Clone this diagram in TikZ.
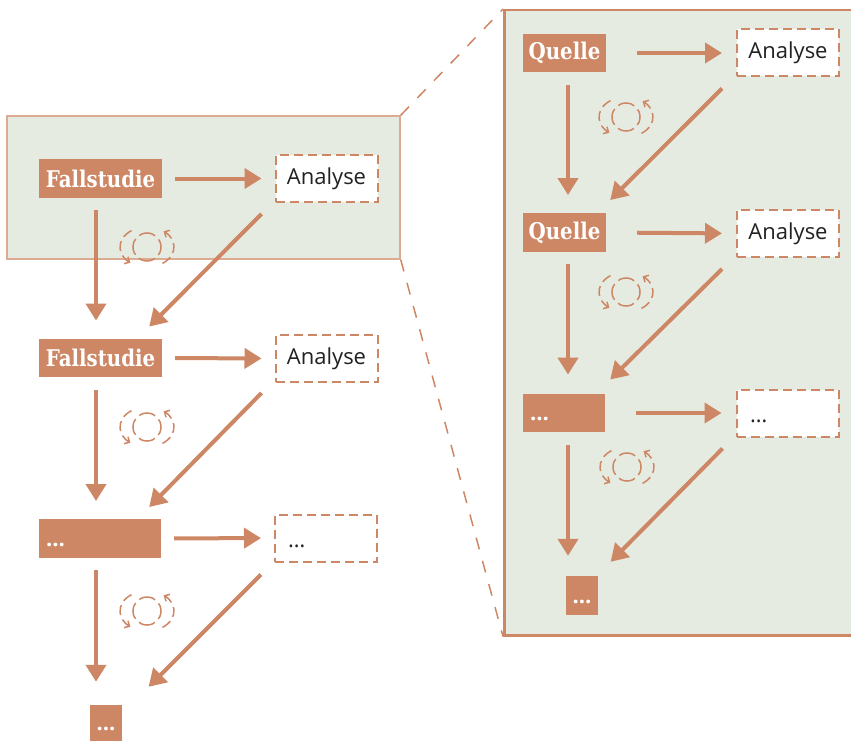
\documentclass[tikz,border=0pt]{standalone}
\usepackage{fontspec}
\setmainfont{Open Sans}
\newfontfamily\slab[FakeStretch=0.86]{DejaVu Serif}
\usetikzlibrary{arrows.meta}
\definecolor{rust}{RGB}{205,135,100}
\definecolor{sage}{RGB}{230,235,225}
\definecolor{ink}{RGB}{34,34,34}
\tikzset{
  loopicon/.pic={
    \draw[ring,dash pattern=on 17pt off 5pt,dash phase=8.5pt] (0,0) circle[radius=14];
    \draw[ring,-{Straight Barb[length=4pt,width=8pt]}] (235:27 and 20)
      arc[start angle=235,end angle=128,x radius=27,y radius=20];
    \draw[ring,-{Straight Barb[length=4pt,width=8pt]}] (55:27 and 20)
      arc[start angle=55,end angle=-52,x radius=27,y radius=20];
  }
}
\begin{document}
\begin{tikzpicture}
  [x=1pt,y=-1pt,
   casebox/.style={fill=rust,text=white,inner sep=0pt,minimum height=38.5pt,
     font=\slab\bfseries\fontsize{23}{26}\selectfont},
   dotbox/.style={fill=rust,text=white,inner sep=0pt,inner xsep=7pt,align=left,
     minimum height=38.5pt,text height=15pt,text depth=0pt,
     font=\bfseries\fontsize{22}{26}\selectfont},
   resbox/.style={draw=rust,line width=2pt,dash pattern=on 9pt off 5pt,fill=white,
     text=ink,inner sep=0pt,minimum width=102pt,minimum height=47pt,
     font=\fontsize{22}{26}\selectfont},
   resdots/.style={resbox,inner xsep=13pt,align=left,text height=18pt,text depth=0pt},
   flow/.style={draw=rust,line width=4pt,-{Triangle[width=20pt,length=17pt]}},
   ring/.style={draw=rust,line width=1.5pt,dash pattern=on 10pt off 5pt},
   panel/.style={fill=sage,draw=rust,inner sep=0pt}]
  \useasboundingbox (0,0) rectangle (851,741);
  \node[panel,draw=rust!70,line width=1.5pt,minimum width=393pt,minimum height=143pt]
    (lpanel) at (203.5,187.5) {};
  \node[panel,line width=2.5pt,minimum width=380pt,minimum height=625pt,anchor=north west]
    (rpanel) at (503,9) {};
  \draw[rust,line width=1.5pt,dash pattern=on 12pt off 12pt]
    (lpanel.north east) -- (rpanel.north west)
    (lpanel.south east) -- (rpanel.south west);
  \coordinate (lx) at (96,0);
  \coordinate (rx) at (568,0);

  \node[casebox,minimum width=123pt] (f1) at (100.5,178.5) {Fallstudie};
  \node[resbox] (a1) at (326.5,178.5) {Analyse};
  \node[casebox,minimum width=123pt] (f2) at (100.5,358) {Fallstudie};
  \node[resbox] (a2) at (326.5,358.5) {Analyse};
  \node[dotbox,text width=108pt] (f3) at (100,538.5) {…};
  \node[resdots,text width=76pt] (a3) at (326,538) {…};
  \node[dotbox,minimum width=32pt,minimum height=36pt] (f4) at (106,723) {…};

  \node[casebox,minimum width=83pt] (q1) at (564.5,53) {Quelle};
  \node[resbox] (b1) at (788,53) {Analyse};
  \node[casebox,minimum width=83pt] (q2) at (564.5,232.5) {Quelle};
  \node[resbox] (b2) at (788,233.5) {Analyse};
  \node[dotbox,text width=68pt] (q3) at (564,413) {…};
  \node[resdots,text width=75pt] (b3) at (787.5,413) {…};
  \node[dotbox,minimum width=32pt,minimum height=39pt] (q4) at (582,595.5) {…};

  \foreach \a/\b in {f1/a1,f2/a2,f3/a3}
    \draw[flow,shorten <=13pt,shorten >=13pt] (\a.east) -- (\b.west);
  \foreach \a/\b in {q1/b1,q2/b2,q3/b3}
    \draw[flow,shorten <=31pt,shorten >=14pt] (\a.east) -- (\b.west);
  \foreach \a/\b/\e in {f1/f2/18,f2/f3/18,f3/f4/23}
    \draw[flow,shorten <=12.5pt,shorten >=\e pt] (\a.south -| lx) -- (\b.north -| lx);
  \foreach \a/\b/\e in {q1/q2/18,q2/q3/19,q3/q4/20}
    \draw[flow,shorten <=12.5pt,shorten >=\e pt] (\a.south -| rx) -- (\b.north -| rx);

  \draw[flow] ([shift={(-13,11)}]a1.south west) -- ([shift={(-13,-12)}]f2.north east);
  \draw[flow] ([shift={(-13,10)}]a2.south west) -- ([shift={(-12,-12)}]f3.north east);
  \draw[flow] ([shift={(-13,12)}]a3.south west) -- ([shift={(26,-18)}]f4.north east);
  \draw[flow] ([shift={(-14,11)}]b1.south west) -- ([shift={(4,-13)}]q2.north east);
  \draw[flow] ([shift={(-14,11)}]b2.south west) -- ([shift={(5,-14)}]q3.north east);
  \draw[flow] ([shift={(-13,11)}]b3.south west) -- ([shift={(12,-14)}]q4.north east);

  \pic at (147,247) {loopicon};
  \pic at (147,427) {loopicon};
  \pic at (147,611) {loopicon};
  \pic at (626,117) {loopicon};
  \pic at (626,292) {loopicon};
  \pic at (627,467) {loopicon};
\end{tikzpicture}
\end{document}
